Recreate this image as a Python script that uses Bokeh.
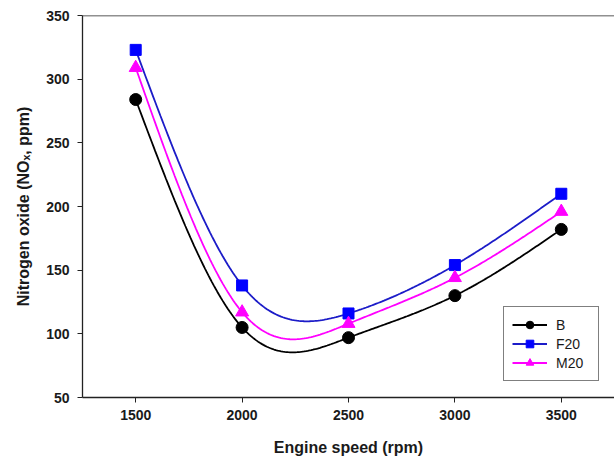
import numpy as np
from bokeh.plotting import figure
from bokeh.models import Legend, LegendItem, Span, FixedTicker
from bokeh.embed import file_html
from bokeh.resources import INLINE

# ---- data ----
speed = [1500, 2000, 2500, 3000, 3500]
nox_B = [284, 105, 97, 130, 182]
nox_F20 = [323, 138, 116, 154, 210]
nox_M20 = [309, 117, 108, 144, 196]
x_ticks = [1500, 2000, 2500, 3000, 3500]
y_ticks = [50, 100, 150, 200, 250, 300, 350]


def natural_spline(xs, ys, n=60):
    """Smooth curve through the points (natural cubic spline, like the source plot's spline line)."""
    xs = np.asarray(xs, float)
    ys = np.asarray(ys, float)
    k = len(xs)
    h = np.diff(xs)
    A = np.zeros((k, k))
    r = np.zeros(k)
    A[0, 0] = A[-1, -1] = 1.0
    for i in range(1, k - 1):
        A[i, i - 1] = h[i - 1]
        A[i, i] = 2 * (h[i - 1] + h[i])
        A[i, i + 1] = h[i]
        r[i] = 6 * ((ys[i + 1] - ys[i]) / h[i] - (ys[i] - ys[i - 1]) / h[i - 1])
    M = np.linalg.solve(A, r)
    out_x, out_y = [], []
    for i in range(k - 1):
        t = np.linspace(0, 1, n, endpoint=(i == k - 2))
        a, b = 1 - t, t
        yy = a * ys[i] + b * ys[i + 1] + ((a ** 3 - a) * M[i] + (b ** 3 - b) * M[i + 1]) * h[i] ** 2 / 6
        out_x.extend(xs[i] + t * h[i])
        out_y.extend(yy)
    return out_x, out_y


p = figure(width=614, height=460, output_backend="svg", toolbar_location=None,
           x_range=(1250, 3750), y_range=(50, 350),
           min_border_left=82, min_border_right=0, min_border_top=15, min_border_bottom=63)

p.outline_line_color = None
p.xgrid.visible = False
p.ygrid.visible = False
p.background_fill_color = "white"
p.border_fill_color = "white"

# top border line of the frame
p.add_layout(Span(location=350, dimension="width", line_color="#222222", line_width=1.3))

font = "Liberation Sans"
for ax in (p.xaxis[0], p.yaxis[0]):
    ax.axis_line_color = "#222222"
    ax.axis_line_width = 1.3
    ax.major_tick_line_color = "#222222"
    ax.major_tick_out = 5
    ax.major_tick_in = 0
    ax.minor_tick_line_color = None
    ax.major_label_text_font = font
    ax.major_label_text_font_style = "bold"
    ax.major_label_text_font_size = "14px"
    ax.major_label_text_color = "#1a1a1a"
    ax.axis_label_text_font = font
    ax.axis_label_text_font_style = "bold"
    ax.axis_label_text_font_size = "16px"
    ax.axis_label_text_color = "#1a1a1a"

p.xaxis.ticker = FixedTicker(ticks=x_ticks)
p.yaxis.ticker = FixedTicker(ticks=y_ticks)
p.xaxis.axis_label = "Engine speed (rpm)"
p.yaxis.axis_label = "Nitrogen oxide (NO\u2093, ppm)"
p.xaxis.major_label_standoff = 7
p.yaxis.major_label_standoff = 8
p.xaxis.axis_label_standoff = 16
p.yaxis.axis_label_standoff = 11

series = [
    ("B", nox_B, "black", "black", "circle", 12),
    ("F20", nox_F20, "#1c1cc8", "#0000ff", "square", 11),
    ("M20", nox_M20, "#ff00ff", "#ff00ff", "triangle", 13),
]

items = []
for name, ys, lcol, mcol, marker, size in series:
    cx, cy = natural_spline(speed, ys)
    ln = p.line(cx, cy, line_color=lcol, line_width=1.8)
    sc = p.scatter(speed, ys, marker=marker, size=size, fill_color=mcol, line_color=mcol)
    items.append(LegendItem(label=name, renderers=[ln, sc]))

legend = Legend(items=items, location=(421, 16),
                border_line_color="black", border_line_width=1,
                background_fill_alpha=1, padding=8, margin=0,
                glyph_width=35, glyph_height=19, label_height=19, label_width=34,
                label_standoff=9, spacing=0,
                label_text_font=font, label_text_font_size="14px", label_text_color="#1a1a1a")
p.add_layout(legend, "center")

open("out.html", "w").write(file_html(p, INLINE))
